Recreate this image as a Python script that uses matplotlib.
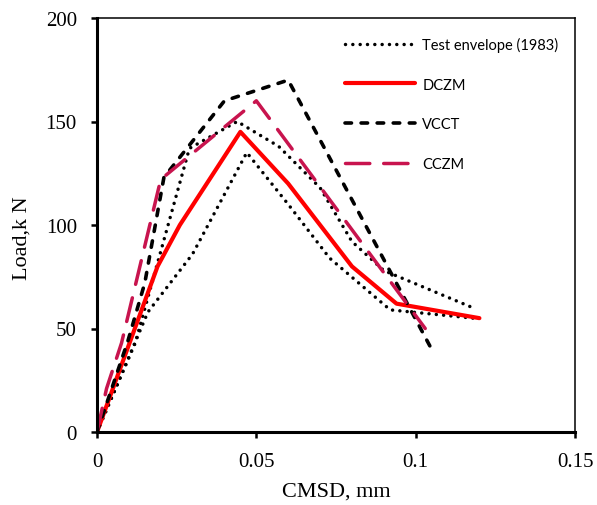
import matplotlib
matplotlib.use("Agg")
import matplotlib.pyplot as plt

# ── load vs crack-mouth sliding displacement ──
test_upper_x = [0, 0.012, 0.029, 0.044, 0.057, 0.07, 0.08, 0.09, 0.118]
test_upper_y = [0, 43, 137, 150, 138, 118, 92, 78, 60]
test_lower_x = [0, 0.016, 0.03, 0.047, 0.06, 0.073, 0.092, 0.118]
test_lower_y = [0, 58, 86, 135, 110, 84, 59, 55]

dczm_x = [0, 0.019, 0.026, 0.045, 0.06, 0.08, 0.094, 0.12]
dczm_y = [0, 80, 100, 145, 120, 80, 62, 55]

vcct_x = [0, 0.0097, 0.015, 0.021, 0.04, 0.06, 0.105]
vcct_y = [0, 44, 72, 123, 160, 170, 40]

cczm_x = [0, 0.003, 0.0077, 0.02, 0.05, 0.103]
cczm_y = [0, 21, 43, 122, 160, 50]

x_ticks = [0, 0.05, 0.1, 0.15]
x_ticklabels = ["0", "0.05", "0.1", "0.15"]
y_ticks = [0, 50, 100, 150, 200]

SERIF = "Liberation Serif"
SANS = "Lato"
CRIMSON = "#c8144e"

fig = plt.figure(figsize=(5.97, 5.06), dpi=100)
ax = fig.add_axes([97 / 597, 73 / 506, 478 / 597, 414 / 506])

dot_kw = dict(color="black", lw=2.5, ls=(0, (0.01, 2.1)), dash_capstyle="round")
ax.plot(test_upper_x, test_upper_y, label="Test envelope (1983)", **dot_kw)
ax.plot(test_lower_x, test_lower_y, **dot_kw)
ax.plot(dczm_x, dczm_y, color="red", lw=3.0, solid_capstyle="round",
        label="DCZM")
ax.plot(vcct_x, vcct_y, color="black", lw=2.6, ls=(0, (1.8, 2.65)),
        dash_capstyle="round", label="VCCT")
ax.plot(cczm_x, cczm_y, color=CRIMSON, lw=2.5, ls=(0, (7, 4)),
        dash_capstyle="round", label="CCZM")

ax.set_xlim(0, 0.15)
ax.set_ylim(0, 200)
ax.set_xticks(x_ticks)
ax.set_xticklabels(x_ticklabels)
ax.set_yticks(y_ticks)

for side in ("left", "bottom"):
    ax.spines[side].set_linewidth(2.2)
for side in ("top", "right"):
    ax.spines[side].set_linewidth(1.1)

ax.tick_params(direction="out", length=4.5, width=1.8, pad=10,
               labelsize=15)
for lbl in ax.get_xticklabels() + ax.get_yticklabels():
    lbl.set_fontfamily(SERIF)

ax.set_xlabel("CMSD, mm", fontsize=16, fontfamily=SERIF)
ax.set_ylabel("Load,k N", fontsize=16, fontfamily=SERIF)
ax.xaxis.set_label_coords(0.5, -0.12)
ax.yaxis.set_label_coords(-0.137, 0.47)

leg = ax.legend(loc="upper left", bbox_to_anchor=(248 / 478, 1 - 19 / 414),
                frameon=False, prop={"family": SANS, "size": 10.5},
                handlelength=4.8, handletextpad=0.5, labelspacing=1.75,
                borderpad=0, borderaxespad=0)

fig.savefig("out.png", dpi=100)
